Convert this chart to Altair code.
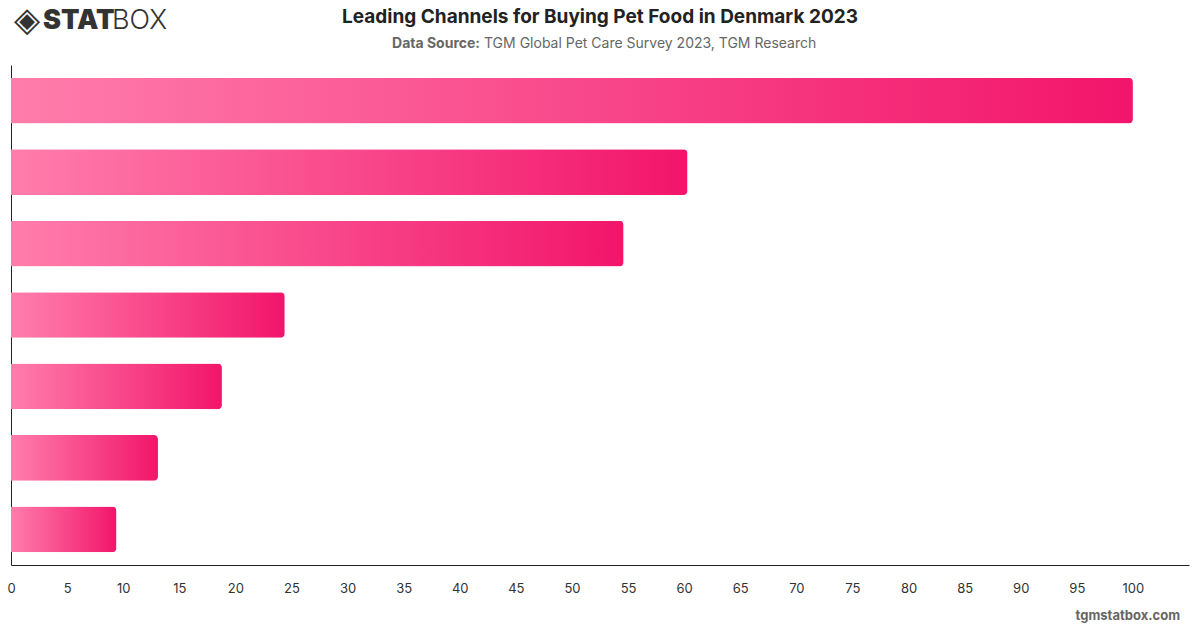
import altair as alt
import pandas as pd

channels = [
    "Supermarket / hypermarket",
    "Pet store",
    "Online retailer",
    "Discount store",
    "Veterinary clinic",
    "Farm / garden store",
    "Other",
]
shares = [100.0, 60.3, 54.6, 24.4, 18.8, 13.1, 9.4]
x_ticks = list(range(0, 101, 5))

df = pd.DataFrame({"channel": channels, "share": shares})

W, H = 1178, 500
FONT = "Inter"

gradient = alt.Gradient(
    gradient="linear",
    stops=[
        alt.GradientStop(color="#FF7DAB", offset=0),
        alt.GradientStop(color="#F2156B", offset=1),
    ],
    x1=0, x2=1, y1=0, y2=0,
)

bars = alt.Chart(df).mark_bar(fill=gradient, cornerRadiusEnd=4).encode(
    x=alt.X(
        "share:Q",
        scale=alt.Scale(domain=[0, 105], nice=False),
        axis=alt.Axis(
            values=x_ticks,
            title=None,
            grid=False,
            ticks=False,
            domainColor="#222222",
            labelColor="#333333",
            labelFontSize=13,
            labelFont=FONT,
            labelPadding=17,
            labelFlush=False,
        ),
    ),
    y=alt.Y(
        "channel:N",
        sort=channels,
        scale=alt.Scale(paddingInner=0.36, paddingOuter=0.18),
        axis=alt.Axis(
            title=None, labels=False, ticks=False, grid=False, domainColor="#222222"
        ),
    ),
    tooltip=["channel", "share"],
)

def txt(text, x, y, size, weight="normal", color="#222222", align="center", font=FONT):
    return alt.Chart(pd.DataFrame({"t": [text]})).mark_text(
        align=align, baseline="middle", fontSize=size, fontWeight=weight,
        color=color, font=font,
    ).encode(x=alt.value(x), y=alt.value(y), text="t:N")

OX, OY = 11, 65
title = txt("Leading Channels for Buying Pet Food in Denmark 2023", 600 - OX, 17 - OY, 19, "bold", "#222222")
sub1 = txt("Data Source:", 480 - OX, 44 - OY, 14, "bold", "#666666", align="right")
sub2 = txt("TGM Global Pet Care Survey 2023, TGM Research", 484 - OX, 44 - OY, 14, "normal", "#666666", align="left")
logo_icon = txt("◈", 27 - OX, 21 - OY, 34, "bold", "#333333", font="DejaVu Sans")
logo1 = txt("STAT", 43 - OX, 21 - OY, 27, 900, "#333333", align="left")
logo2 = txt("BOX", 112 - OX, 21 - OY, 27, 300, "#333333", align="left")
footer = txt("tgmstatbox.com", 1180 - OX, 616 - OY, 13, "bold", "#666666", align="right")

chart = alt.layer(bars, title, sub1, sub2, logo_icon, logo1, logo2, footer).properties(
    width=W,
    height=H,
    autosize=alt.AutoSizeParams(type="none"),
    padding={"left": OX, "top": OY, "right": 11, "bottom": 63},
    background="white",
).configure_view(stroke=None)

chart.save("out.html", embed_options={"renderer": "svg", "actions": False})
